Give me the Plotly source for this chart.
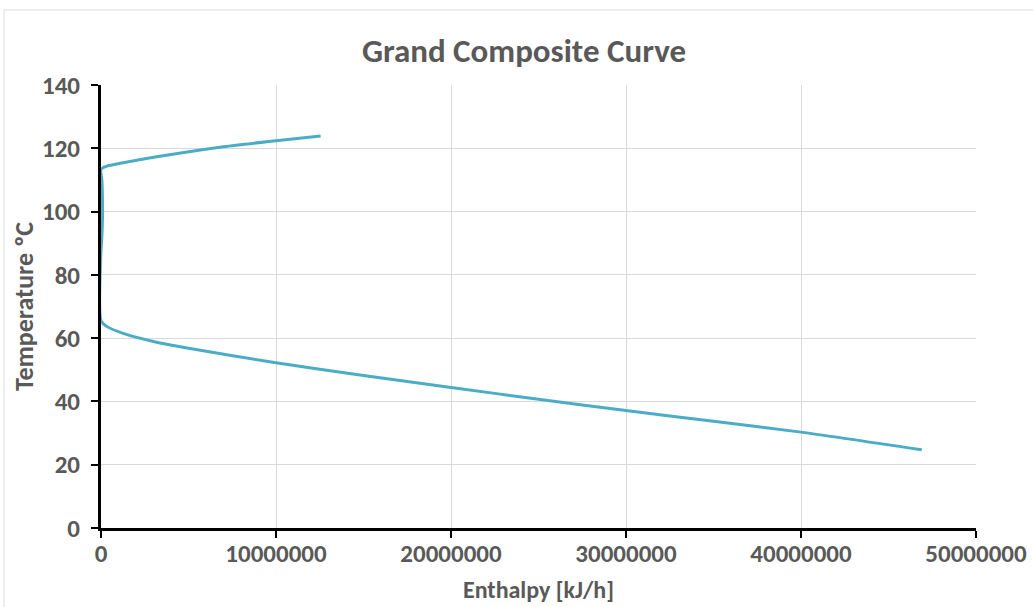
import plotly.graph_objects as go

# Grand composite curve: enthalpy [kJ/h] vs temperature [°C]
enthalpy = [12550000, 10000000, 7000000, 3180000, 1270000, 300000, 0,
            50000, 80000, 90000, 70000, 30000, 0,
            0, 300000, 1270000, 3180000, 5000000, 10000000, 15000000,
            20000000, 25000000, 30000000, 35000000, 40000000, 46900000]
temperature = [123.9, 122.4, 120.5, 117.3, 115.4, 114.3, 113.4,
               110.0, 105.0, 100.0, 95.0, 90.0, 88.0,
               65.5, 63.8, 61.5, 58.7, 56.8, 52.2, 48.2,
               44.4, 40.7, 37.1, 33.7, 30.3, 24.7]

x_ticks = [0, 10000000, 20000000, 30000000, 40000000, 50000000]
y_ticks = [0, 20, 40, 60, 80, 100, 120, 140]

FONT = "Carlito, Calibri, Lato, sans-serif"
GREY = "#595959"

fig = go.Figure()
fig.add_trace(go.Scatter(
    x=enthalpy, y=temperature, mode="lines",
    line=dict(color="#4bacc6", width=3, shape="spline", smoothing=0.7),
    showlegend=False, hoverinfo="skip"))

fig.update_layout(
    width=1033, height=607,
    margin=dict(l=101, r=57, t=85, b=79, autoexpand=False),
    paper_bgcolor="white", plot_bgcolor="white",
    title=dict(text="Grand Composite Curve", x=524/1033, xanchor="center",
               y=1 - 50/607, yanchor="middle", yref="container",
               font=dict(family=FONT, size=33, color=GREY, weight="bold")),
    font=dict(family=FONT, color=GREY),
    shapes=[dict(type="rect", xref="paper", yref="paper",
                 x0=-97/875, x1=1.2, y0=-0.3, y1=518/443,
                 line=dict(color="#d9d9d9", width=1), fillcolor="rgba(0,0,0,0)",
                 layer="below")],
)

fig.update_xaxes(
    range=[0, 50000000], tickvals=x_ticks, ticktext=[str(v) for v in x_ticks],
    automargin=False,
    showgrid=True, gridcolor="#d9d9d9", gridwidth=1,
    showline=True, linecolor="black", linewidth=3,
    ticks="outside", tickcolor="black", tickwidth=2, ticklen=7,
    tickfont=dict(family=FONT, size=25, color=GREY, weight="bold"), ticklabelstandoff=-6,
    zeroline=False,
    title=dict(text="Enthalpy [kJ/h]", font=dict(family=FONT, size=24, color=GREY, weight="bold"),
               standoff=14),
)
fig.update_yaxes(
    range=[0, 140], tickvals=y_ticks,
    automargin=False,
    showgrid=True, gridcolor="#d9d9d9", gridwidth=1,
    showline=True, linecolor="black", linewidth=3,
    ticks="outside", tickcolor="black", tickwidth=2, ticklen=7,
    tickfont=dict(family=FONT, size=25, color=GREY, weight="bold"), ticklabelstandoff=6,
    zeroline=False,
    title=dict(text="Temperature ºC", font=dict(family=FONT, size=26, color=GREY, weight="bold"),
               standoff=1),
)

fig.write_html("out.html")
